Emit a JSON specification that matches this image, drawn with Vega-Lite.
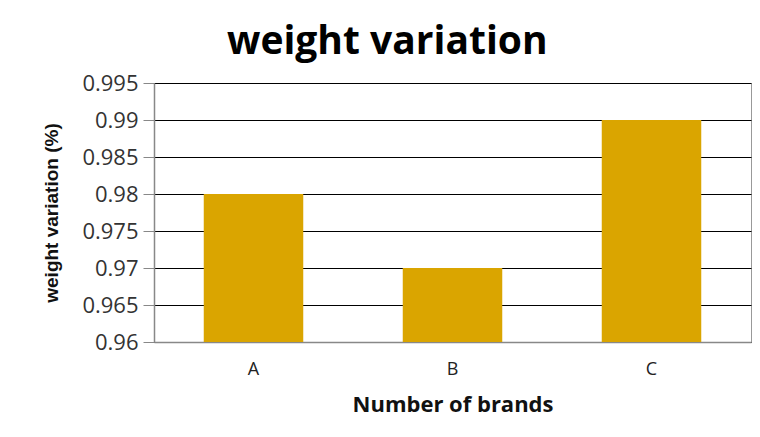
{
  "$schema": "https://vega.github.io/schema/vega-lite/v6.json",
  "autosize": {"type": "none"},
  "width": 597,
  "height": 259,
  "padding": {"left": 154, "top": 83, "right": 9, "bottom": 95},
  "background": "white",
  "title": {
    "text": "weight variation",
    "font": "Open Sans",
    "fontSize": 39,
    "fontWeight": "bold",
    "color": "#000000",
    "anchor": "start",
    "frame": "group",
    "dx": 73,
    "offset": 10
  },
  "data": {
    "values": [
      {"brand": "A", "variation": 0.98},
      {"brand": "B", "variation": 0.97},
      {"brand": "C", "variation": 0.99}
    ]
  },
  "mark": {"type": "bar", "color": "#DAA500", "clip": true},
  "encoding": {
    "x": {
      "field": "brand",
      "type": "nominal",
      "title": "Number of brands",
      "scale": {"paddingInner": 0.5, "paddingOuter": 0.25},
      "axis": {
        "labelAngle": 0,
        "labelFont": "Open Sans",
        "labelFontSize": 18,
        "labelColor": "#222222",
        "labelPadding": 18,
        "ticks": false,
        "domainColor": "#888888",
        "domainWidth": 1.5,
        "titleFont": "Open Sans",
        "titleFontSize": 22,
        "titleFontWeight": "bold",
        "titleColor": "#111111",
        "titlePadding": 16
      }
    },
    "y": {
      "field": "variation",
      "type": "quantitative",
      "title": "weight variation (%)",
      "scale": {"domain": [0.96, 0.995], "zero": false, "nice": false},
      "axis": {
        "values": [0.96, 0.965, 0.97, 0.975, 0.98, 0.985, 0.99, 0.995],
        "format": ".3~f",
        "labelFont": "Open Sans",
        "labelFontSize": 22,
        "labelColor": "#333333",
        "labelPadding": 5,
        "tickSize": 11,
        "tickColor": "#888888",
        "domainColor": "#888888",
        "domainWidth": 1.5,
        "grid": true,
        "gridColor": "#000000",
        "gridWidth": 1,
        "titleFont": "Liberation Sans",
        "titleFontSize": 19,
        "titleFontWeight": "bold",
        "titleColor": "#111111",
        "titlePadding": 20
      }
    }
  },
  "config": {
    "view": {"stroke": "#999999", "strokeWidth": 1}
  }
}
